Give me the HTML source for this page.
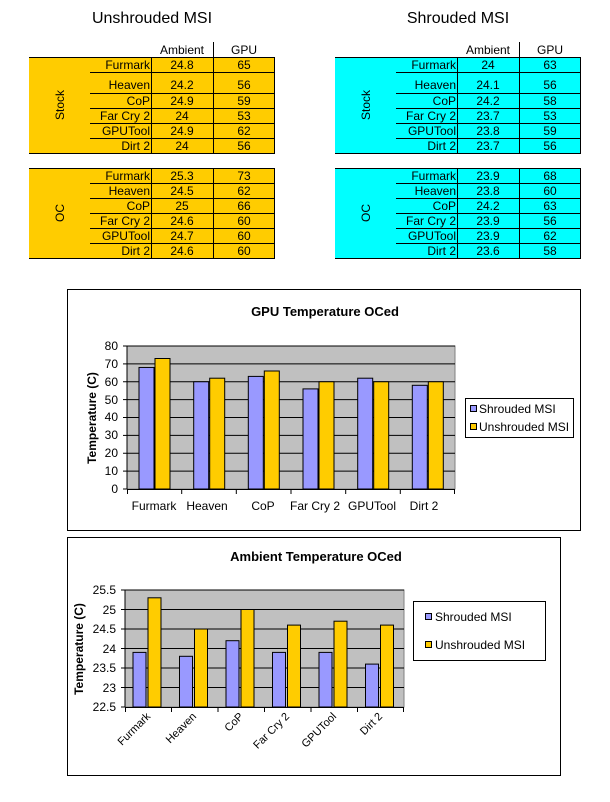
<!DOCTYPE html>
<html><head><style>
html,body{margin:0;padding:0;background:#fff}
svg{display:block;font-family:"Liberation Sans",Arial,sans-serif}
</style></head><body>
<svg width="610" height="802" viewBox="0 0 610 802" xmlns="http://www.w3.org/2000/svg">
<rect width="610" height="802" fill="#fff"/>
<text x="152" y="23" font-size="16" text-anchor="middle">Unshrouded MSI</text>
<text x="458" y="23" font-size="16" text-anchor="middle">Shrouded MSI</text>

<!-- LEFT TABLE -->
<g font-size="12" fill="#000">
<rect x="29" y="57" width="246" height="96" fill="#FFCC00"/>
<rect x="29" y="168" width="246" height="90" fill="#FFCC00"/>
<g stroke="#000" stroke-width="1">
<line x1="213.5" y1="42" x2="213.5" y2="57"/>
<line x1="29" y1="57.5" x2="275" y2="57.5"/><line x1="29" y1="153.5" x2="275" y2="153.5"/>
<line x1="90" y1="72.5" x2="275" y2="72.5"/><line x1="90" y1="93.5" x2="275" y2="93.5"/><line x1="90" y1="108.5" x2="275" y2="108.5"/><line x1="90" y1="123.5" x2="275" y2="123.5"/><line x1="90" y1="138.5" x2="275" y2="138.5"/>
<line x1="151.5" y1="57" x2="151.5" y2="153"/><line x1="213.5" y1="57" x2="213.5" y2="153"/><line x1="274.5" y1="57" x2="274.5" y2="153"/>
<line x1="29" y1="168.5" x2="275" y2="168.5"/><line x1="29" y1="258.5" x2="275" y2="258.5"/>
<line x1="90" y1="183.5" x2="275" y2="183.5"/><line x1="90" y1="198.5" x2="275" y2="198.5"/><line x1="90" y1="213.5" x2="275" y2="213.5"/><line x1="90" y1="228.5" x2="275" y2="228.5"/><line x1="90" y1="243.5" x2="275" y2="243.5"/>
<line x1="151.5" y1="168" x2="151.5" y2="258"/><line x1="213.5" y1="168" x2="213.5" y2="258"/><line x1="274.5" y1="168" x2="274.5" y2="258"/>
</g>
<text x="182" y="54" text-anchor="middle">Ambient</text><text x="244" y="54" text-anchor="middle">GPU</text>
<text transform="translate(64,105) rotate(-90)" text-anchor="middle">Stock</text>
<text transform="translate(64,213) rotate(-90)" text-anchor="middle">OC</text>
<g text-anchor="end">
<text x="150" y="69">Furmark</text><text x="150" y="89">Heaven</text><text x="150" y="105">CoP</text><text x="150" y="120">Far Cry 2</text><text x="150" y="135">GPUTool</text><text x="150" y="150">Dirt 2</text>
<text x="150" y="180">Furmark</text><text x="150" y="195">Heaven</text><text x="150" y="210">CoP</text><text x="150" y="225">Far Cry 2</text><text x="150" y="240">GPUTool</text><text x="150" y="255">Dirt 2</text>
</g>
<g text-anchor="middle">
<text x="182" y="69">24.8</text><text x="182" y="89">24.2</text><text x="182" y="105">24.9</text><text x="182" y="120">24</text><text x="182" y="135">24.9</text><text x="182" y="150">24</text>
<text x="244" y="69">65</text><text x="244" y="89">56</text><text x="244" y="105">59</text><text x="244" y="120">53</text><text x="244" y="135">62</text><text x="244" y="150">56</text>
<text x="182" y="180">25.3</text><text x="182" y="195">24.5</text><text x="182" y="210">25</text><text x="182" y="225">24.6</text><text x="182" y="240">24.7</text><text x="182" y="255">24.6</text>
<text x="244" y="180">73</text><text x="244" y="195">62</text><text x="244" y="210">66</text><text x="244" y="225">60</text><text x="244" y="240">60</text><text x="244" y="255">60</text>
</g>
</g>

<!-- RIGHT TABLE -->
<g font-size="12" fill="#000" transform="translate(306,0)">
<rect x="29" y="57" width="246" height="96" fill="#00FFFF"/>
<rect x="29" y="168" width="246" height="90" fill="#00FFFF"/>
<g stroke="#000" stroke-width="1">
<line x1="213.5" y1="42" x2="213.5" y2="57"/>
<line x1="29" y1="57.5" x2="275" y2="57.5"/><line x1="29" y1="153.5" x2="275" y2="153.5"/>
<line x1="90" y1="72.5" x2="275" y2="72.5"/><line x1="90" y1="93.5" x2="275" y2="93.5"/><line x1="90" y1="108.5" x2="275" y2="108.5"/><line x1="90" y1="123.5" x2="275" y2="123.5"/><line x1="90" y1="138.5" x2="275" y2="138.5"/>
<line x1="151.5" y1="57" x2="151.5" y2="153"/><line x1="213.5" y1="57" x2="213.5" y2="153"/><line x1="274.5" y1="57" x2="274.5" y2="153"/>
<line x1="29" y1="168.5" x2="275" y2="168.5"/><line x1="29" y1="258.5" x2="275" y2="258.5"/>
<line x1="90" y1="183.5" x2="275" y2="183.5"/><line x1="90" y1="198.5" x2="275" y2="198.5"/><line x1="90" y1="213.5" x2="275" y2="213.5"/><line x1="90" y1="228.5" x2="275" y2="228.5"/><line x1="90" y1="243.5" x2="275" y2="243.5"/>
<line x1="151.5" y1="168" x2="151.5" y2="258"/><line x1="213.5" y1="168" x2="213.5" y2="258"/><line x1="274.5" y1="168" x2="274.5" y2="258"/>
</g>
<text x="182" y="54" text-anchor="middle">Ambient</text><text x="244" y="54" text-anchor="middle">GPU</text>
<text transform="translate(64,105) rotate(-90)" text-anchor="middle">Stock</text>
<text transform="translate(64,213) rotate(-90)" text-anchor="middle">OC</text>
<g text-anchor="end">
<text x="150" y="69">Furmark</text><text x="150" y="89">Heaven</text><text x="150" y="105">CoP</text><text x="150" y="120">Far Cry 2</text><text x="150" y="135">GPUTool</text><text x="150" y="150">Dirt 2</text>
<text x="150" y="180">Furmark</text><text x="150" y="195">Heaven</text><text x="150" y="210">CoP</text><text x="150" y="225">Far Cry 2</text><text x="150" y="240">GPUTool</text><text x="150" y="255">Dirt 2</text>
</g>
<g text-anchor="middle">
<text x="182" y="69">24</text><text x="182" y="89">24.1</text><text x="182" y="105">24.2</text><text x="182" y="120">23.7</text><text x="182" y="135">23.8</text><text x="182" y="150">23.7</text>
<text x="244" y="69">63</text><text x="244" y="89">56</text><text x="244" y="105">58</text><text x="244" y="120">53</text><text x="244" y="135">59</text><text x="244" y="150">56</text>
<text x="182" y="180">23.9</text><text x="182" y="195">23.8</text><text x="182" y="210">24.2</text><text x="182" y="225">23.9</text><text x="182" y="240">23.9</text><text x="182" y="255">23.6</text>
<text x="244" y="180">68</text><text x="244" y="195">60</text><text x="244" y="210">63</text><text x="244" y="225">56</text><text x="244" y="240">62</text><text x="244" y="255">58</text>
</g>
</g>

<!-- CHART 1 -->
<rect x="67.5" y="289.5" width="513" height="241" fill="#fff" stroke="#000"/>
<text x="325" y="316" font-size="13" font-weight="bold" text-anchor="middle">GPU Temperature OCed</text>
<rect x="127" y="346" width="328" height="143" fill="#C0C0C0" stroke="#808080"/>
<g stroke="#000">
<line x1="127" y1="471.1" x2="455" y2="471.1"/><line x1="127" y1="453.25" x2="455" y2="453.25"/><line x1="127" y1="435.4" x2="455" y2="435.4"/><line x1="127" y1="417.5" x2="455" y2="417.5"/><line x1="127" y1="399.6" x2="455" y2="399.6"/><line x1="127" y1="381.75" x2="455" y2="381.75"/><line x1="127" y1="363.9" x2="455" y2="363.9"/><line x1="127" y1="346" x2="455" y2="346"/>
</g>
<g stroke="#000" stroke-width="1">
<rect x="139" y="367.45" width="15" height="121.55" fill="#9999FF"/><rect x="155" y="358.5" width="15" height="130.5" fill="#FFCC00"/>
<rect x="193.7" y="381.75" width="15" height="107.25" fill="#9999FF"/><rect x="209.7" y="378.2" width="15" height="110.8" fill="#FFCC00"/>
<rect x="248.3" y="376.4" width="15" height="112.6" fill="#9999FF"/><rect x="264.3" y="371" width="15" height="118" fill="#FFCC00"/>
<rect x="303" y="388.9" width="15" height="100.1" fill="#9999FF"/><rect x="319" y="381.75" width="15" height="107.25" fill="#FFCC00"/>
<rect x="357.7" y="378.2" width="15" height="110.8" fill="#9999FF"/><rect x="373.7" y="381.75" width="15" height="107.25" fill="#FFCC00"/>
<rect x="412.3" y="385.3" width="15" height="103.7" fill="#9999FF"/><rect x="428.3" y="381.75" width="15" height="107.25" fill="#FFCC00"/>
</g>
<g stroke="#000">
<line x1="127" y1="346" x2="127" y2="489"/><line x1="127" y1="489.5" x2="455" y2="489.5"/>
<line x1="123" y1="489" x2="127" y2="489"/><line x1="123" y1="471.1" x2="127" y2="471.1"/><line x1="123" y1="453.25" x2="127" y2="453.25"/><line x1="123" y1="435.4" x2="127" y2="435.4"/><line x1="123" y1="417.5" x2="127" y2="417.5"/><line x1="123" y1="399.6" x2="127" y2="399.6"/><line x1="123" y1="381.75" x2="127" y2="381.75"/><line x1="123" y1="363.9" x2="127" y2="363.9"/><line x1="123" y1="346" x2="127" y2="346"/>
<line x1="127.5" y1="489" x2="127.5" y2="494"/><line x1="181.7" y1="489" x2="181.7" y2="494"/><line x1="236.3" y1="489" x2="236.3" y2="494"/><line x1="291" y1="489" x2="291" y2="494"/><line x1="345.7" y1="489" x2="345.7" y2="494"/><line x1="400.3" y1="489" x2="400.3" y2="494"/><line x1="454.5" y1="489" x2="454.5" y2="494"/>
</g>
<g font-size="12" text-anchor="end">
<text x="118" y="493">0</text><text x="118" y="475">10</text><text x="118" y="457">20</text><text x="118" y="439">30</text><text x="118" y="421">40</text><text x="118" y="404">50</text><text x="118" y="386">60</text><text x="118" y="368">70</text><text x="118" y="350">80</text>
</g>
<g font-size="12" text-anchor="middle">
<text x="154" y="510">Furmark</text><text x="207" y="510">Heaven</text><text x="263" y="510">CoP</text><text x="315" y="510">Far Cry 2</text><text x="372" y="510">GPUTool</text><text x="424" y="510">Dirt 2</text>
</g>
<text transform="translate(96,418) rotate(-90)" font-size="12" font-weight="bold" text-anchor="middle">Temperature (C)</text>
<rect x="465.5" y="398.5" width="108" height="39" fill="#fff" stroke="#000"/>
<rect x="470.5" y="405.5" width="6" height="6" fill="#9999FF" stroke="#000"/>
<rect x="470.5" y="423.5" width="6" height="6" fill="#FFCC00" stroke="#000"/>
<text x="479" y="413" font-size="12">Shrouded MSI</text>
<text x="479" y="431" font-size="12">Unshrouded MSI</text>

<!-- CHART 2 -->
<rect x="67.5" y="537.5" width="493" height="238" fill="#fff" stroke="#000"/>
<text x="316" y="561" font-size="13" font-weight="bold" text-anchor="middle">Ambient Temperature OCed</text>
<rect x="125" y="590" width="279" height="117" fill="#C0C0C0" stroke="#808080"/>
<g stroke="#000">
<line x1="125" y1="590" x2="404" y2="590"/><line x1="125" y1="609.5" x2="404" y2="609.5"/><line x1="125" y1="629" x2="404" y2="629"/><line x1="125" y1="648.5" x2="404" y2="648.5"/><line x1="125" y1="668" x2="404" y2="668"/><line x1="125" y1="687.5" x2="404" y2="687.5"/>
</g>
<g stroke="#000">
<rect x="133" y="652.4" width="13" height="54.6" fill="#9999FF"/><rect x="148" y="597.8" width="13" height="109.2" fill="#FFCC00"/>
<rect x="179.5" y="656.3" width="13" height="50.7" fill="#9999FF"/><rect x="194.5" y="629" width="13" height="78" fill="#FFCC00"/>
<rect x="226" y="640.7" width="13" height="66.3" fill="#9999FF"/><rect x="241" y="609.5" width="13" height="97.5" fill="#FFCC00"/>
<rect x="272.5" y="652.4" width="13" height="54.6" fill="#9999FF"/><rect x="287.5" y="625.1" width="13" height="81.9" fill="#FFCC00"/>
<rect x="319" y="652.4" width="13" height="54.6" fill="#9999FF"/><rect x="334" y="621.2" width="13" height="85.8" fill="#FFCC00"/>
<rect x="365.5" y="664.1" width="13" height="42.9" fill="#9999FF"/><rect x="380.5" y="625.1" width="13" height="81.9" fill="#FFCC00"/>
</g>
<g stroke="#000">
<line x1="125" y1="590" x2="125" y2="707"/><line x1="125" y1="707.5" x2="404" y2="707.5"/>
<line x1="121" y1="590" x2="125" y2="590"/><line x1="121" y1="609.5" x2="125" y2="609.5"/><line x1="121" y1="629" x2="125" y2="629"/><line x1="121" y1="648.5" x2="125" y2="648.5"/><line x1="121" y1="668" x2="125" y2="668"/><line x1="121" y1="687.5" x2="125" y2="687.5"/><line x1="121" y1="707" x2="125" y2="707"/>
<line x1="125.5" y1="707" x2="125.5" y2="712"/><line x1="171.5" y1="707" x2="171.5" y2="712"/><line x1="218" y1="707" x2="218" y2="712"/><line x1="264.5" y1="707" x2="264.5" y2="712"/><line x1="311" y1="707" x2="311" y2="712"/><line x1="357.5" y1="707" x2="357.5" y2="712"/><line x1="403.5" y1="707" x2="403.5" y2="712"/>
</g>
<g font-size="12" text-anchor="end">
<text x="116" y="594">25.5</text><text x="116" y="614">25</text><text x="116" y="633">24.5</text><text x="116" y="653">24</text><text x="116" y="672">23.5</text><text x="116" y="692">23</text><text x="116" y="711">22.5</text>
</g>
<g font-size="11" text-anchor="end">
<text transform="translate(151,717) rotate(-45)">Furmark</text>
<text transform="translate(197,717) rotate(-45)">Heaven</text>
<text transform="translate(244,717) rotate(-45)">CoP</text>
<text transform="translate(290,717) rotate(-45)">Far Cry 2</text>
<text transform="translate(337,717) rotate(-45)">GPUTool</text>
<text transform="translate(383,717) rotate(-45)">Dirt 2</text>
</g>
<text transform="translate(83,649) rotate(-90)" font-size="12" font-weight="bold" text-anchor="middle">Temperature (C)</text>
<rect x="413.5" y="601.5" width="132" height="59" fill="#fff" stroke="#000"/>
<rect x="425.5" y="613.5" width="6" height="6" fill="#9999FF" stroke="#000"/>
<rect x="425.5" y="641.5" width="6" height="6" fill="#FFCC00" stroke="#000"/>
<text x="435" y="621" font-size="12">Shrouded MSI</text>
<text x="435" y="649" font-size="12">Unshrouded MSI</text>
</svg>
</body></html>
